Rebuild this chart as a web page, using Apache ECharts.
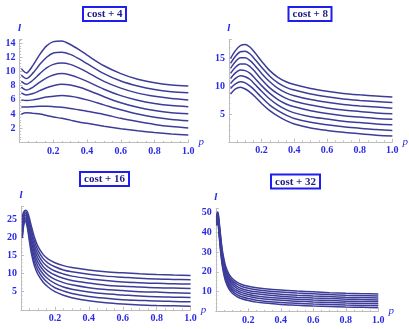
<!DOCTYPE html>
<html>
<head>
<meta charset="UTF-8">
<title>cost</title>
<script src="https://cdn.jsdelivr.net/npm/echarts@6/dist/echarts.min.js"></script>
<style>html,body{margin:0;padding:0;background:#fff;}</style>
</head>
<body>
<div id="main" style="width:409px;height:329px;"></div>
<script>
var titles = ['cost + 4', 'cost + 8', 'cost + 16', 'cost + 32'];

// cost + 4 : p values and l curves (bottom to top)
var p4 = [0.01, 0.04, 0.08, 0.12, 0.16, 0.2, 0.25, 0.3, 0.35, 0.4, 0.5, 0.6, 0.7, 0.8, 0.9, 1.0];
var l4 = [
	[4.0, 4.2, 4.1, 4.0, 3.8, 3.6, 3.4, 3.15, 2.9, 2.7, 2.3, 1.95, 1.65, 1.4, 1.2, 1.05],
	[5.0, 5.0, 5.05, 5.1, 5.1, 5.05, 4.95, 4.8, 4.6, 4.4, 3.95, 3.4, 2.95, 2.55, 2.25, 2.05],
	[6.0, 5.9, 6.0, 6.2, 6.4, 6.5, 6.6, 6.5, 6.3, 6.0, 5.3, 4.6, 4.0, 3.55, 3.25, 3.05],
	[7.0, 6.7, 6.9, 7.3, 7.7, 8.0, 8.2, 8.1, 7.8, 7.4, 6.45, 5.6, 4.95, 4.5, 4.2, 4.05],
	[7.8, 7.4, 7.8, 8.5, 9.1, 9.5, 9.7, 9.5, 9.1, 8.6, 7.5, 6.6, 5.95, 5.5, 5.2, 5.05],
	[8.6, 8.2, 8.8, 9.7, 10.5, 11.0, 11.2, 11.0, 10.5, 9.9, 8.6, 7.65, 6.95, 6.5, 6.2, 6.0],
	[9.5, 9.0, 9.8, 11.0, 12.0, 12.6, 12.7, 12.4, 11.8, 11.1, 9.7, 8.65, 7.95, 7.45, 7.15, 7.0],
	[10.4, 9.8, 10.9, 12.4, 13.6, 14.2, 14.3, 13.8, 13.1, 12.3, 10.8, 9.7, 8.9, 8.4, 8.1, 7.95]
];

// cost + 8
var p8 = [0.01, 0.04, 0.07, 0.1, 0.13, 0.16, 0.2, 0.25, 0.3, 0.35, 0.4, 0.5, 0.6, 0.7, 0.8, 0.9, 1.0];
var l8 = [
	[8.6, 9.5, 9.8, 9.5, 8.9, 8.1, 6.9, 5.6, 4.6, 3.8, 3.2, 2.5, 2.05, 1.7, 1.45, 1.2, 1.05],
	[9.6, 10.4, 10.8, 10.6, 10.0, 9.2, 8.0, 6.6, 5.6, 4.8, 4.2, 3.5, 3.05, 2.7, 2.45, 2.2, 2.05],
	[10.5, 11.4, 11.9, 11.7, 11.2, 10.3, 9.1, 7.7, 6.6, 5.8, 5.2, 4.5, 4.1, 3.7, 3.45, 3.2, 3.05],
	[11.4, 12.4, 12.9, 12.8, 12.3, 11.4, 10.1, 8.7, 7.6, 6.8, 6.3, 5.6, 5.1, 4.7, 4.45, 4.2, 4.05],
	[12.3, 13.4, 14.0, 14.0, 13.5, 12.6, 11.2, 9.7, 8.6, 7.8, 7.3, 6.6, 6.1, 5.7, 5.45, 5.2, 5.05],
	[13.2, 14.4, 15.1, 15.1, 14.6, 13.7, 12.3, 10.8, 9.6, 8.8, 8.3, 7.6, 7.1, 6.7, 6.45, 6.25, 6.05],
	[14.1, 15.4, 16.2, 16.3, 15.8, 14.8, 13.4, 11.8, 10.6, 9.8, 9.3, 8.6, 8.1, 7.7, 7.45, 7.25, 7.05],
	[15.0, 16.4, 17.3, 17.5, 17.0, 16.0, 14.5, 12.8, 11.6, 10.8, 10.3, 9.6, 9.1, 8.7, 8.45, 8.25, 8.05]
];

// cost + 16
var p16 = [0.008, 0.015, 0.022, 0.03, 0.04, 0.05, 0.06, 0.08, 0.1, 0.13, 0.16, 0.2, 0.25, 0.3, 0.4, 0.5, 0.6, 0.7, 0.8, 0.9, 1.0];
var l16 = [
	[19.8, 23.0, 24.3, 24.2, 22.0, 18.8, 15.9, 12.0, 9.8, 7.7, 6.3, 5.0, 4.0, 3.35, 2.5, 1.95, 1.6, 1.35, 1.2, 1.1, 1.0],
	[20.6, 23.6, 24.7, 24.7, 22.7, 19.7, 17.0, 13.1, 10.9, 8.8, 7.4, 6.1, 5.2, 4.5, 3.7, 3.2, 2.8, 2.6, 2.4, 2.3, 2.2],
	[21.5, 24.1, 25.2, 25.1, 23.4, 20.6, 18.0, 14.3, 12.0, 9.9, 8.5, 7.3, 6.3, 5.7, 4.9, 4.4, 4.1, 3.8, 3.6, 3.5, 3.4],
	[22.3, 24.7, 25.6, 25.6, 24.1, 21.5, 19.1, 15.4, 13.1, 11.0, 9.6, 8.4, 7.5, 6.9, 6.1, 5.6, 5.3, 5.0, 4.9, 4.7, 4.6],
	[23.2, 25.2, 26.1, 26.1, 24.7, 22.5, 20.1, 16.5, 14.2, 12.0, 10.7, 9.6, 8.7, 8.1, 7.4, 6.8, 6.5, 6.3, 6.1, 6.0, 5.9],
	[24.0, 25.8, 26.5, 26.6, 25.4, 23.4, 21.2, 17.6, 15.3, 13.1, 11.8, 10.7, 9.9, 9.3, 8.6, 8.1, 7.7, 7.5, 7.3, 7.2, 7.1],
	[24.8, 26.3, 27.0, 27.0, 26.1, 24.3, 22.2, 18.8, 16.4, 14.2, 12.9, 11.9, 11.0, 10.5, 9.8, 9.3, 9.0, 8.7, 8.5, 8.4, 8.3],
	[25.7, 26.9, 27.4, 27.5, 26.8, 25.2, 23.3, 19.9, 17.5, 15.3, 14.0, 13.0, 12.2, 11.7, 11.0, 10.5, 10.2, 9.95, 9.75, 9.6, 9.5]
];

// cost + 32
var p32 = [0.005, 0.01, 0.015, 0.02, 0.03, 0.04, 0.05, 0.06, 0.08, 0.1, 0.13, 0.16, 0.2, 0.25, 0.3, 0.4, 0.5, 0.6, 0.7, 0.8, 0.9, 1.0];
var l32 = [
	[43.5, 46.0, 44.0, 39, 30.0, 23.0, 18.5, 15.3, 11.5, 9.3, 7.5, 6.4, 5.5, 4.7, 4.2, 3.5, 3.1, 2.7, 2.45, 2.2, 2.05, 1.9],
	[44.1, 46.6, 44.8, 40, 31.1, 24.1, 19.6, 16.4, 12.6, 10.4, 8.5, 7.4, 6.5, 5.7, 5.2, 4.5, 4.1, 3.7, 3.45, 3.2, 3.05, 2.9],
	[44.8, 47.2, 45.6, 41, 32.3, 25.3, 20.8, 17.5, 13.6, 11.4, 9.6, 8.5, 7.6, 6.8, 6.3, 5.6, 5.2, 4.8, 4.5, 4.2, 4.0, 3.9],
	[45.4, 47.8, 46.4, 42, 33.4, 26.4, 21.9, 18.6, 14.7, 12.5, 10.6, 9.5, 8.6, 7.8, 7.3, 6.6, 6.2, 5.8, 5.5, 5.2, 5.0, 4.9],
	[46.1, 48.5, 47.1, 43, 34.6, 27.6, 23.1, 19.7, 15.8, 13.6, 11.7, 10.5, 9.6, 8.9, 8.4, 7.7, 7.2, 6.8, 6.5, 6.2, 6.0, 5.8],
	[46.7, 49.1, 47.9, 44, 35.7, 28.7, 24.2, 20.8, 16.9, 14.7, 12.7, 11.5, 10.6, 9.9, 9.4, 8.7, 8.2, 7.8, 7.5, 7.2, 7.0, 6.8],
	[47.4, 49.7, 48.7, 45, 36.9, 29.9, 25.4, 21.9, 17.9, 15.7, 13.8, 12.6, 11.7, 11.0, 10.5, 9.8, 9.3, 8.9, 8.5, 8.2, 8.0, 7.8],
	[48.0, 50.3, 49.5, 46, 38.0, 31.0, 26.5, 23.0, 19.0, 16.8, 14.8, 13.6, 12.7, 12.0, 11.5, 10.8, 10.3, 9.9, 9.5, 9.2, 9.0, 8.8]
];

var yStep = [2, 5, 5, 10];
var yMax = [14.5, 18.4, 28.5, 52];

var myChart = echarts.init(document.getElementById('main'));
var labelBlue = '#2a2ae6', lineBlue = '#3d3d99', axisGray = '#bdbdbd';
var serif = '"Liberation Serif", "DejaVu Serif", serif';

var grids = [
	{left: 19.6, top: 39.5, width: 168.7, height: 103},
	{left: 228.9, top: 39.5, width: 164, height: 102.3},
	{left: 21, top: 206.6, width: 169.6, height: 103.2},
	{left: 215.8, top: 208.7, width: 162.5, height: 102.7}
];
// title boxes
var boxes = [[83, 7], [288.5, 7], [80, 172], [271, 174.5]];
var pList = [p4, p8, p16, p32];
var lList = [l4, l8, l16, l32];

var xAxes = [], yAxes = [], series = [], titleList = [];
for (var i = 0; i < 4; i++) {
	(function(i){
		titleList.push({
			text: titles[i],
			left: boxes[i][0], top: boxes[i][1],
			borderColor: '#1e1ef0', borderWidth: 2,
			padding: [2, 4, 1, 4],
			textStyle: {fontFamily: serif, fontWeight: 'bold', fontSize: 11, color: '#1c1c86'}
		});
		xAxes.push({
			type: 'value', gridIndex: i, min: 0, max: 1, interval: 0.2,
			axisLine: {lineStyle: {color: axisGray, width: 1}},
			axisTick: {inside: true, length: 3, lineStyle: {color: axisGray}},
			minorTick: {show: true, splitNumber: 4, length: 1.5, lineStyle: {color: axisGray}},
			splitLine: {show: false},
			axisLabel: {
				margin: 4, color: labelBlue, fontFamily: serif, fontWeight: 'bold', fontSize: 10,
				formatter: function(v){ return v === 0 ? '' : v.toFixed(1); }
			},
			name: 'p', nameLocation: 'end', nameGap: 4,
			nameTextStyle: {color: labelBlue, fontFamily: serif, fontStyle: 'italic', fontSize: 11, verticalAlign: 'middle'}
		});
		yAxes.push({
			type: 'value', gridIndex: i, min: 0, max: yMax[i], interval: yStep[i],
			axisLine: {show: true, lineStyle: {color: axisGray, width: 1}},
			axisTick: {show: true, inside: true, length: 3, lineStyle: {color: axisGray}},
			minorTick: {show: true, splitNumber: 5, length: 1.5, lineStyle: {color: axisGray}},
			splitLine: {show: false},
			axisLabel: {
				margin: 4, color: labelBlue, fontFamily: serif, fontWeight: 'bold', fontSize: 10,
				formatter: function(v){ return (v === 0 || v % yStep[i] !== 0) ? '' : String(v); }
			},
			name: 'l', nameLocation: 'end', nameGap: 6,
			nameTextStyle: {color: labelBlue, fontFamily: serif, fontStyle: 'italic', fontWeight: 'bold', fontSize: 11, align: 'center'}
		});
		lList[i].forEach(function(row){
			series.push({
				type: 'line', xAxisIndex: i, yAxisIndex: i,
				data: pList[i].map(function(p, j){ return [p, row[j]]; }),
				smooth: 0.3, showSymbol: false, silent: true,
				lineStyle: {color: lineBlue, width: 1.5}
			});
		});
	})(i);
}

var option = {
	animation: false,
	backgroundColor: '#fff',
	title: titleList,
	grid: grids,
	xAxis: xAxes,
	yAxis: yAxes,
	series: series
};
myChart.setOption(option);
</script>
</body>
</html>
